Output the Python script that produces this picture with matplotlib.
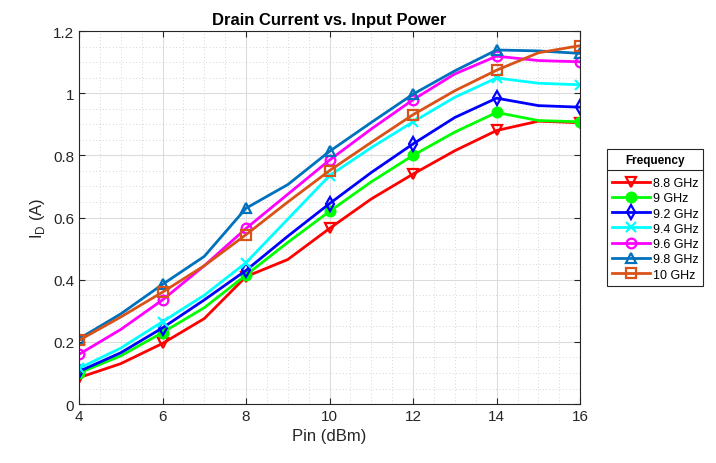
import numpy as np
import matplotlib.pyplot as plt
from matplotlib.lines import Line2D

plt.rcParams['font.family'] = ['Liberation Sans', 'DejaVu Sans']

# 输入功率 (dBm)
pin = [4, 5, 6, 7, 8, 9, 10, 11, 12, 13, 14, 15, 16]

# 各频率下的漏极电流 (A)
id_88 = [0.085, 0.13, 0.195, 0.275, 0.41, 0.465, 0.565, 0.66, 0.74, 0.815, 0.88, 0.91, 0.905]
id_90 = [0.10, 0.155, 0.23, 0.31, 0.415, 0.52, 0.62, 0.715, 0.80, 0.875, 0.938, 0.912, 0.908]
id_92 = [0.105, 0.165, 0.245, 0.335, 0.43, 0.54, 0.645, 0.745, 0.837, 0.922, 0.984, 0.96, 0.955]
id_94 = [0.115, 0.18, 0.265, 0.35, 0.455, 0.595, 0.735, 0.825, 0.908, 0.987, 1.049, 1.032, 1.027]
id_96 = [0.16, 0.24, 0.335, 0.445, 0.565, 0.675, 0.785, 0.885, 0.979, 1.062, 1.119, 1.105, 1.101]
id_98 = [0.21, 0.29, 0.385, 0.475, 0.63, 0.706, 0.813, 0.906, 0.997, 1.072, 1.139, 1.136, 1.128]
id_100 = [0.205, 0.28, 0.36, 0.445, 0.545, 0.65, 0.751, 0.842, 0.931, 1.008, 1.074, 1.13, 1.153]

labels = ['8.8 GHz', '9 GHz', '9.2 GHz', '9.4 GHz', '9.6 GHz', '9.8 GHz', '10 GHz']
series = [id_88, id_90, id_92, id_94, id_96, id_98, id_100]
colors = ['#FF0000', '#00FF00', '#0000FF', '#00FFFF', '#FF00FF', '#0072BD', '#D95319']
markers = ['v', 'o', 'd', 'x', 'o', '^', 's']
filled = [False, True, False, False, False, False, False]

fig = plt.figure(figsize=(7.16, 4.64), dpi=100)
ax = fig.add_axes([0.1103, 0.127, 0.700, 0.804])

for y, lab, c, m, f in zip(series, labels, colors, markers, filled):
    ax.plot(pin, y, color=c, lw=2, marker=m, markersize=7, markevery=2,
            markerfacecolor=c if f else 'none', markeredgecolor=c,
            markeredgewidth=1.6, label=lab)

ax.set_xlim(4, 16)
ax.set_ylim(0, 1.2)
ax.set_xticks(np.arange(4, 17, 2))
ax.set_yticks(np.arange(0, 1.21, 0.2))
ax.set_yticklabels(['0', '0.2', '0.4', '0.6', '0.8', '1', '1.2'])
ax.set_xticks(np.arange(4, 16.01, 0.5), minor=True)
ax.set_yticks(np.arange(0, 1.201, 0.05), minor=True)
ax.grid(True, which='major', color='#DCDCDC', lw=0.8)
ax.grid(True, which='minor', color='#C8C8C8', lw=0.6, ls=(0, (1, 3)))
ax.set_axisbelow(True)
ax.tick_params(which='both', direction='in', top=True, right=True,
               labelsize=11, colors='#262626', length=4)
ax.tick_params(which='minor', length=0)
for s in ax.spines.values():
    s.set_color('#262626')
    s.set_linewidth(0.8)

ax.set_xlabel('Pin (dBm)', fontsize=12, color='#262626')
ax.set_ylabel('I$_\\mathregular{D}$ (A)', fontsize=12, color='#262626')
ax.set_title('Drain Current vs. Input Power', fontsize=12, fontweight='bold', pad=5)

leg = ax.legend(loc='upper left', bbox_to_anchor=(607 / 716, 1 - 150 / 464),
                bbox_transform=fig.transFigure, title='Frequency', fontsize=9,
                title_fontproperties={'weight': 'bold', 'size': 8.5},
                fancybox=False, edgecolor='#262626', framealpha=1,
                handlelength=3.0, handletextpad=0.25, labelspacing=0.26,
                borderpad=0.4, borderaxespad=0)
leg.get_frame().set_linewidth(0.8)
leg._legend_box.sep = 8

# 图例标题下的分隔线
fig.canvas.draw()
fb = leg.get_frame().get_window_extent()
tb = leg.get_title().get_window_extent()
ysep = (tb.y0 - 4) / fig.bbox.height
fig.add_artist(Line2D([fb.x0 / fig.bbox.width, fb.x1 / fig.bbox.width], [ysep, ysep],
                      color='#262626', lw=0.8, transform=fig.transFigure))

fig.savefig('out.png', dpi=100)
